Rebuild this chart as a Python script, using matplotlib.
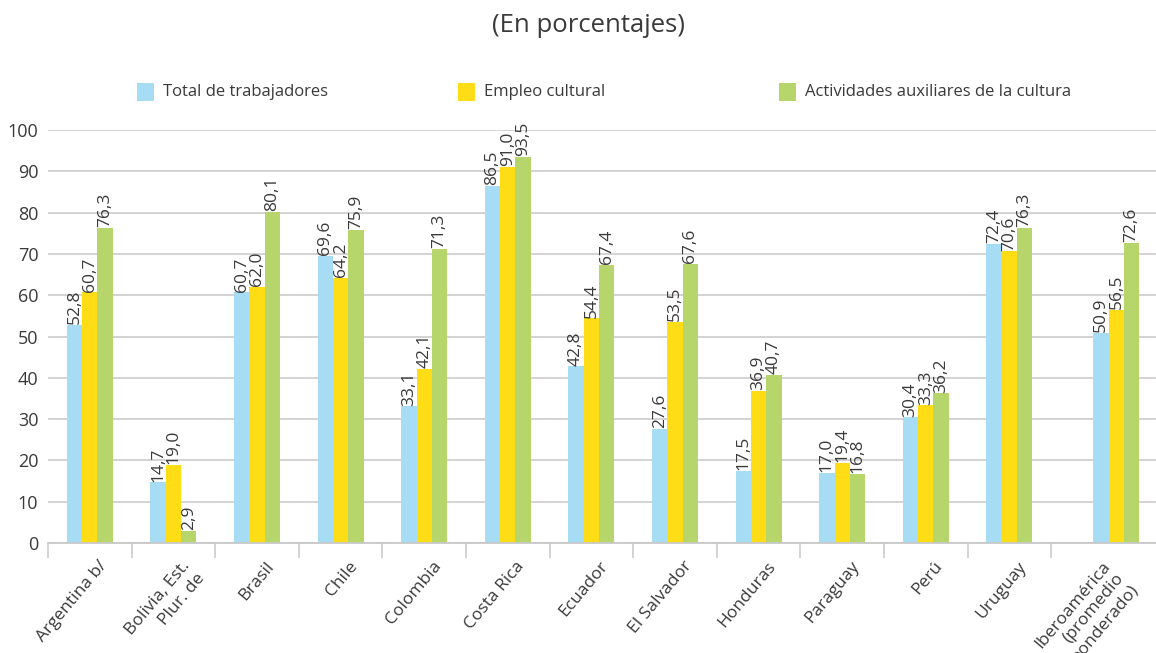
import numpy as np
import matplotlib
matplotlib.use("Agg")
import matplotlib.pyplot as plt
from matplotlib.patches import Rectangle
from matplotlib import transforms

plt.rcParams["font.family"] = ["Open Sans", "DejaVu Sans"]

PAISES = [
    "Argentina b/", "Bolivia, Est.\nPlur. de", "Brasil", "Chile", "Colombia",
    "Costa Rica", "Ecuador", "El Salvador", "Honduras", "Paraguay", "Perú",
    "Uruguay", "Iberoamérica\n(promedio\nponderado)",
]
TOTAL = [52.8, 14.7, 60.7, 69.6, 33.1, 86.5, 42.8, 27.6, 17.5, 17.0, 30.4, 72.4, 50.9]
EMPLEO = [60.7, 19.0, 62.0, 64.2, 42.1, 91.0, 54.4, 53.5, 36.9, 19.4, 33.3, 70.6, 56.5]
AUXILIAR = [76.3, 2.9, 80.1, 75.9, 71.3, 93.5, 67.4, 67.6, 40.7, 16.8, 36.2, 76.3, 72.6]
SERIES = ["Total de trabajadores", "Empleo cultural", "Actividades auxiliares de la cultura"]
COLORES = ["#A6DDF5", "#FEDC16", "#B6D66B"]

W, H = 1156, 653
TXT = "#3a3a3a"
GRID = "#C8C8C8"

fig = plt.figure(figsize=(W / 100, H / 100), dpi=100)
ax = fig.add_axes([48 / W, 110 / H, (W - 48) / W, 413 / H])

n = len(PAISES)
centros = np.arange(n) + 0.5
centros_barras = centros.copy()
centros_barras[-1] += 0.28  # el promedio queda algo desplazado a la derecha
bw = 0.183

for k, (vals, col) in enumerate(zip([TOTAL, EMPLEO, AUXILIAR], COLORES)):
    xs = centros_barras + (k - 1) * bw
    ax.bar(xs, vals, width=bw, color=col, zorder=2)
    for x, v in zip(xs, vals):
        ax.annotate(f"{v:.1f}".replace(".", ","), (x, v), xytext=(0, 0.5),
                    textcoords="offset points", rotation=90, ha="center",
                    va="bottom", fontsize=12.5, color=TXT, zorder=3)

ax.set_xlim(0, (W - 48) / 83.6)
ax.set_ylim(0, 100)
ax.set_yticks(range(0, 101, 10))
ax.yaxis.grid(True, color=GRID, linewidth=1.1, zorder=0)
ax.tick_params(axis="y", length=0, pad=7, labelsize=13, labelcolor=TXT)

# marcas de separación entre categorías
ax.set_xticks(np.arange(n))
ax.set_xticklabels([])
ax.tick_params(axis="x", which="major", length=11, width=1.1, color=GRID)
ax.set_xticks(centros, minor=True)
ax.set_xticklabels(PAISES, minor=True)
ax.tick_params(axis="x", which="minor", length=0, pad=11, labelsize=12.5, labelcolor=TXT)
desplazo = transforms.ScaledTranslation(8 / 100, 0, fig.dpi_scale_trans)
for lab in ax.get_xticklabels(minor=True):
    lab.set_rotation(50)
    lab.set_ha("right")
    lab.set_va("top")
    lab.set_rotation_mode("anchor")
    lab.set_multialignment("right")
    lab.set_transform(lab.get_transform() + desplazo)

for s in ["top", "right", "left"]:
    ax.spines[s].set_visible(False)
ax.spines["bottom"].set_color(GRID)
ax.spines["bottom"].set_linewidth(1.3)
ax.set_axisbelow(True)

fig.text(588 / W, 1 - 25 / H, "(En porcentajes)", ha="center", va="center",
         fontsize=18.5, color=TXT)

# leyenda
cajas_x = [137, 458, 779]
for x0, nombre, col in zip(cajas_x, SERIES, COLORES):
    fig.add_artist(Rectangle((x0 / W, 1 - 101 / H), 17 / W, 18 / H,
                             transform=fig.transFigure, color=col, lw=0))
    fig.text((x0 + 26) / W, 1 - 92 / H, nombre, ha="left", va="center",
             fontsize=12, color=TXT)

fig.savefig("out.png", dpi=100)
